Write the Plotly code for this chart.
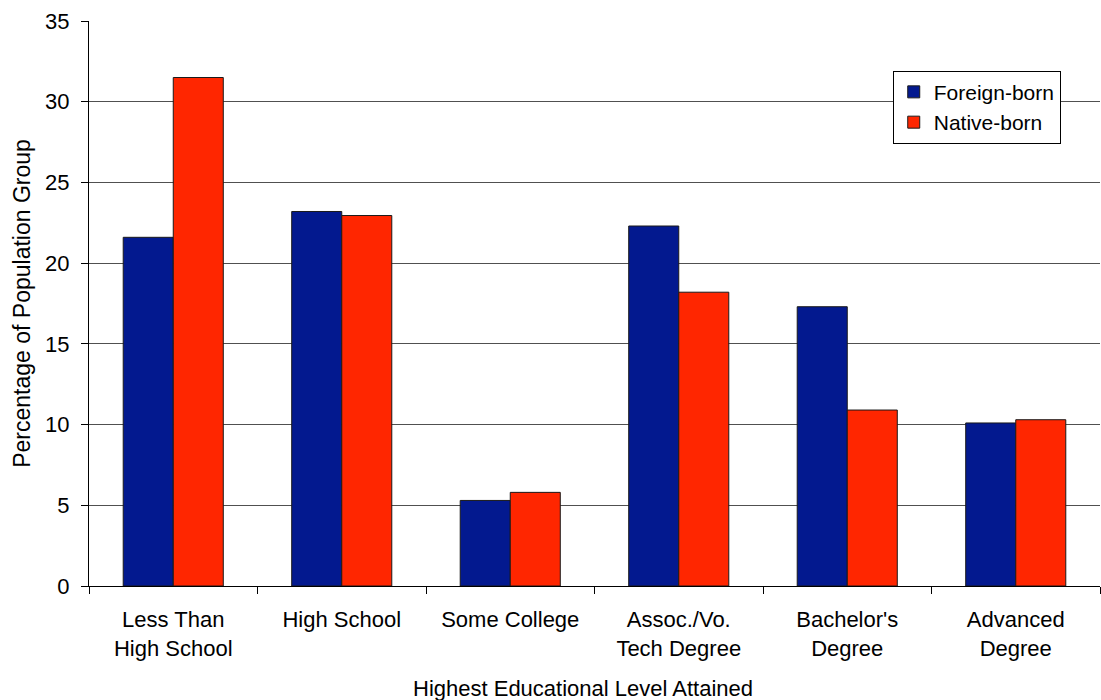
import plotly.graph_objects as go

categories = ["Less Than<br>High School", "High School", "Some College",
              "Assoc./Vo.<br>Tech Degree", "Bachelor's<br>Degree", "Advanced<br>Degree"]
foreign_born = [21.6, 23.2, 5.3, 22.3, 17.3, 10.1]
native_born = [31.5, 22.95, 5.8, 18.2, 10.9, 10.3]
y_ticks = [0, 5, 10, 15, 20, 25, 30, 35]

FONT = "Arial, 'Liberation Sans', sans-serif"

fig = go.Figure()
fig.add_trace(go.Bar(x=categories, y=foreign_born, name="Foreign-born",
                     marker=dict(color="#03198F", line=dict(color="#1a1a1a", width=1))))
fig.add_trace(go.Bar(x=categories, y=native_born, name="Native-born",
                     marker=dict(color="#FF2600", line=dict(color="#1a1a1a", width=1))))

fig.update_layout(
    width=1101, height=700,
    margin=dict(l=89, r=1, t=21, b=114),
    paper_bgcolor="white", plot_bgcolor="white",
    font=dict(family=FONT, size=22, color="black"),
    barmode="group", bargap=0.406, bargroupgap=0,
    legend=dict(x=0.795, y=0.912, xanchor="left", yanchor="top",
                bgcolor="white", bordercolor="black", borderwidth=1,
                font=dict(size=21), itemwidth=30),
    xaxis=dict(
        showline=True, linecolor="black", linewidth=1,
        ticks="outside", tickson="boundaries", ticklen=7, tickcolor="black",
        ticklabelstandoff=14,
        showgrid=False,
    ),
    yaxis=dict(
        title=dict(text="Percentage of Population Group", standoff=8,
                   font=dict(size=23)),
        range=[0, 35], tickvals=y_ticks,
        showline=True, linecolor="black", linewidth=1,
        ticks="outside", ticklen=7, tickcolor="black",
        ticklabelstandoff=7,
        showgrid=True, gridcolor="#505050", gridwidth=1,
        zeroline=False,
    ),
    annotations=[dict(
        text="Highest Educational Level Attained", xref="paper", yref="paper",
        x=0.489, y=-0.182, xanchor="center", yanchor="middle",
        showarrow=False, font=dict(size=22),
    )],
)

fig.write_html("out.html")
